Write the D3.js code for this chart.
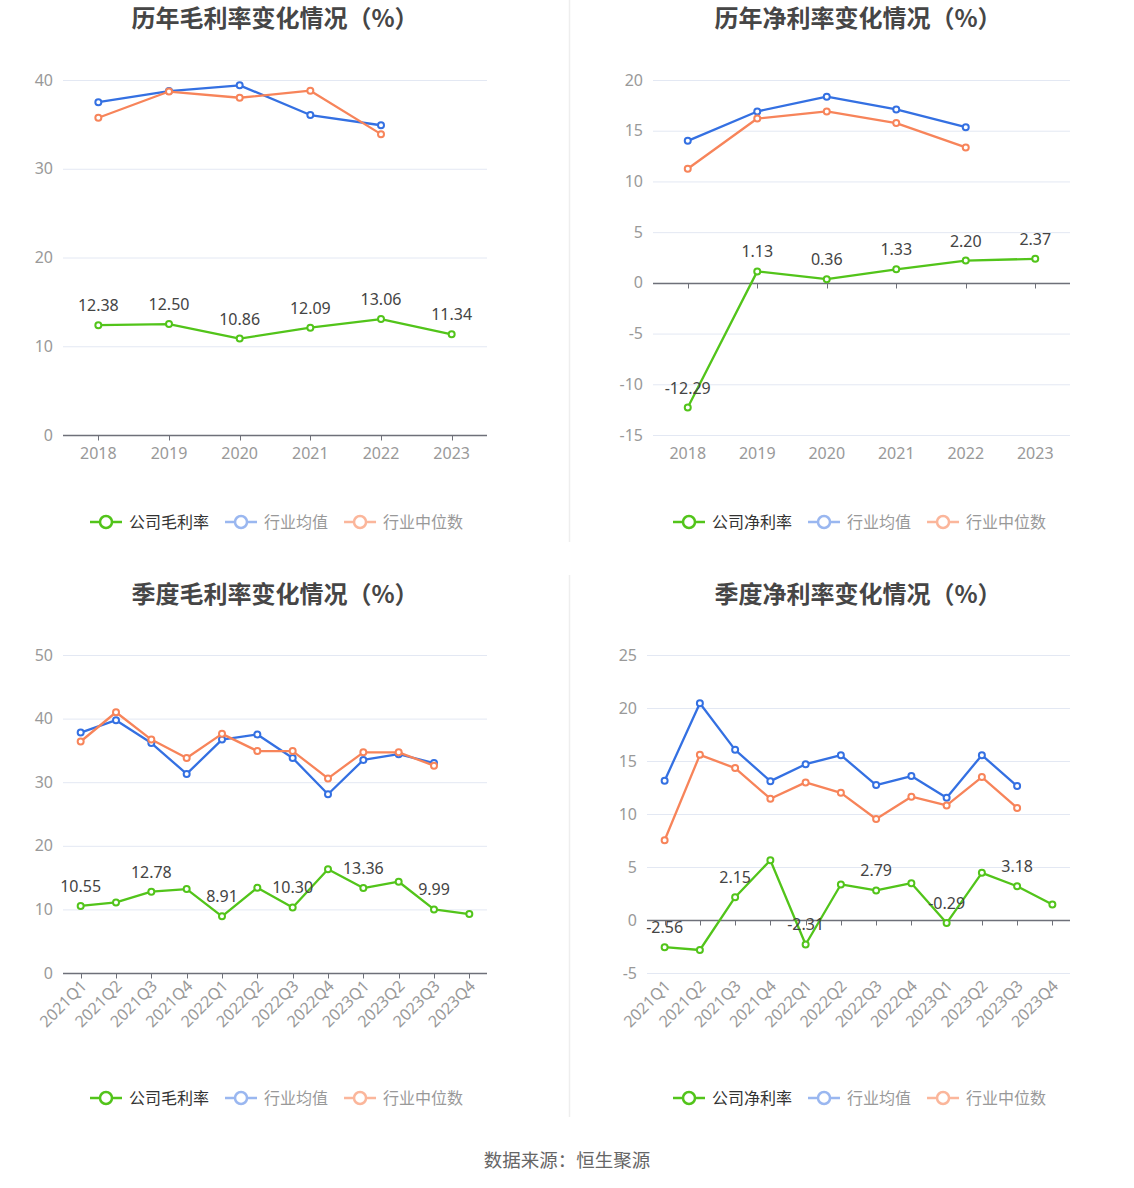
<!DOCTYPE html>
<html><head><meta charset="utf-8">
<script src="https://cdn.jsdelivr.net/npm/d3@7"></script>
<style>
html,body{margin:0;padding:0;background:#fff;}
svg{display:block;font-family:"Noto Sans","Noto Sans CJK SC",sans-serif;}
</style></head>
<body><svg id="c" width="1134" height="1188"></svg>
<script>
// ---------- data ----------
const years = ["2018","2019","2020","2021","2022","2023"];
const quarters = ["2021Q1","2021Q2","2021Q3","2021Q4","2022Q1","2022Q2","2022Q3","2022Q4","2023Q1","2023Q2","2023Q3","2023Q4"];

const annualGrossCompany = [12.38, 12.50, 10.86, 12.09, 13.06, 11.34];
const annualGrossAvg     = [37.5, 38.75, 39.4, 36.05, 34.9];
const annualGrossMedian  = [35.75, 38.7, 38.0, 38.8, 33.9];

const annualNetCompany = [-12.29, 1.13, 0.36, 1.33, 2.20, 2.37];
const annualNetAvg     = [14.0, 16.9, 18.35, 17.1, 15.35];
const annualNetMedian  = [11.25, 16.2, 16.9, 15.75, 13.35];

const quarterGrossCompany = [10.55, 11.1, 12.78, 13.2, 8.91, 13.4, 10.30, 16.3, 13.36, 14.35, 9.99, 9.27];
const quarterGrossAvg     = [37.8, 39.75, 36.15, 31.3, 36.7, 37.5, 33.8, 28.1, 33.5, 34.4, 33.0];
const quarterGrossMedian  = [36.4, 41.0, 36.7, 33.8, 37.6, 34.9, 34.9, 30.6, 34.7, 34.7, 32.6];

const quarterNetCompany = [-2.56, -2.83, 2.15, 5.64, -2.31, 3.35, 2.79, 3.47, -0.29, 4.45, 3.18, 1.47];
const quarterNetAvg     = [13.14, 20.45, 16.05, 13.1, 14.7, 15.55, 12.73, 13.58, 11.54, 15.55, 12.64];
const quarterNetMedian  = [7.52, 15.58, 14.33, 11.44, 12.98, 12.0, 9.53, 11.63, 10.81, 13.48, 10.57];

const titles = ["历年毛利率变化情况（%）","历年净利率变化情况（%）","季度毛利率变化情况（%）","季度净利率变化情况（%）"];
const legendGross = ["公司毛利率","行业均值","行业中位数"];
const legendNet   = ["公司净利率","行业均值","行业中位数"];
const ticksAnnualGross  = [0,10,20,30,40];
const ticksAnnualNet    = [-15,-10,-5,0,5,10,15,20];
const ticksQuarterGross = [0,10,20,30,40,50];
const ticksQuarterNet   = [-5,0,5,10,15,20,25];
const source = "数据来源：恒生聚源";

// ---------- style ----------
const GREEN="#52c41a", BLUE="#3470e2", ORANGE="#f7845a";
const GREEN_F="#52c41a", BLUE_F="#9ab7f0", ORANGE_F="#fbb69b";
const GRID="#e3e8f3", AXIS="#6e7079", LABEL="#999", TEXT="#444";

const svg = d3.select("#c");

function drawChart(o){
  const g = svg.append("g");
  const x = d3.scalePoint().domain(o.cats).range([o.left, o.right]).padding(0.5);
  const y = d3.scaleLinear().domain([o.ticks[0], o.ticks[o.ticks.length-1]]).range([o.bottom, o.top]);

  // title
  g.append("text").attr("x", o.cx).attr("y", o.titleY).attr("text-anchor","middle")
    .attr("dominant-baseline","central")
    .style("font-family",'"Noto Sans CJK SC",sans-serif')
    .attr("font-size",24).attr("font-weight","bold").attr("fill","#464646").text(o.title);

  // grid
  g.selectAll(".grid").data(o.ticks.filter(t=>t!==0 || o.ticks[0]!==0)).enter().append("line")
    .attr("x1",o.left).attr("x2",o.right).attr("y1",d=>y(d)+0.5).attr("y2",d=>y(d)+0.5)
    .attr("stroke",GRID).attr("stroke-width",1);

  // y labels
  g.selectAll(".yl").data(o.ticks).enter().append("text")
    .attr("x",o.left-10).attr("y",d=>y(d)).attr("dy","0.35em").attr("text-anchor","end")
    .attr("font-size",16).attr("fill",LABEL).text(d=>d);

  // x axis line at zero
  const ay = Math.round(y(0))+0.5;
  g.append("line").attr("x1",o.left).attr("x2",o.right).attr("y1",ay).attr("y2",ay)
    .attr("stroke",AXIS).attr("stroke-width",1.5);
  g.selectAll(".tk").data(o.cats).enter().append("line")
    .attr("x1",d=>Math.round(x(d))+0.5).attr("x2",d=>Math.round(x(d))+0.5)
    .attr("y1",ay).attr("y2",ay+5).attr("stroke",AXIS).attr("stroke-width",1);

  // x labels
  const ly = o.bottom;
  if(o.rotate){
    g.selectAll(".xl").data(o.cats).enter().append("text")
      .attr("transform",d=>`translate(${x(d)+3},${ly+10}) rotate(-45)`)
      .attr("dy","0.35em").attr("text-anchor","end")
      .attr("font-size",16).attr("fill",LABEL).text(d=>d);
  } else {
    g.selectAll(".xl").data(o.cats).enter().append("text")
      .attr("x",d=>x(d)).attr("y",ly+18).attr("dy","0.35em").attr("text-anchor","middle")
      .attr("font-size",16).attr("fill",LABEL).text(d=>d);
  }

  const line = d3.line().x((d,i)=>x(o.cats[i])).y(d=>y(d));
  const series = [
    {v:o.avg, c:BLUE},
    {v:o.median, c:ORANGE},
    {v:o.company, c:GREEN}
  ];
  series.forEach(s=>{
    g.append("path").attr("d",line(s.v)).attr("fill","none").attr("stroke",s.c).attr("stroke-width",2.3)
      .attr("stroke-linejoin","round");
    g.selectAll(null).data(s.v).enter().append("circle")
      .attr("cx",(d,i)=>x(o.cats[i])).attr("cy",d=>y(d)).attr("r",3)
      .attr("fill","#fff").attr("stroke",s.c).attr("stroke-width",2);
  });

  // data labels
  g.selectAll(".dl").data(o.company.map((v,i)=>({v,i})).filter(d=>d.i % o.labelEvery===0)).enter().append("text")
    .attr("x",d=>x(o.cats[d.i])).attr("y",d=>y(d.v)-14).attr("text-anchor","middle")
    .attr("font-size",16).attr("fill",TEXT).text(d=>d.v.toFixed(2));

  // legend
  const items = [
    {t:o.legend[0], c:GREEN_F, tc:"#333"},
    {t:o.legend[1], c:BLUE_F, tc:"#999"},
    {t:o.legend[2], c:ORANGE_F, tc:"#999"}
  ];
  const lg = g.append("g");
  let lx = o.legendX;
  items.forEach((it)=>{
    lg.append("line").attr("x1",lx).attr("x2",lx+32).attr("y1",o.legendY).attr("y2",o.legendY)
      .attr("stroke",it.c).attr("stroke-width",2.5);
    lg.append("circle").attr("cx",lx+16).attr("cy",o.legendY).attr("r",6)
      .attr("fill","#fff").attr("stroke",it.c).attr("stroke-width",2.5);
    const tx = lg.append("text").attr("x",lx+39).attr("y",o.legendY).attr("dy","0.35em")
      .style("font-family",'"Noto Sans CJK SC",sans-serif')
      .attr("font-size",16).attr("fill",it.tc).text(it.t);
    lx += 39 + tx.node().getComputedTextLength() + 16;
  });
}

drawChart({title:titles[0], cx:275, titleY:16, cats:years, left:63, right:487, top:80, bottom:435,
  ticks:ticksAnnualGross, company:annualGrossCompany, avg:annualGrossAvg, median:annualGrossMedian,
  rotate:false, labelEvery:1, legend:legendGross, legendX:90, legendY:522});
drawChart({title:titles[1], cx:858, titleY:16, cats:years, left:653, right:1070, top:80, bottom:435,
  ticks:ticksAnnualNet, company:annualNetCompany, avg:annualNetAvg, median:annualNetMedian,
  rotate:false, labelEvery:1, legend:legendNet, legendX:673, legendY:522});
drawChart({title:titles[2], cx:275, titleY:592, cats:quarters, left:63, right:487, top:655, bottom:973,
  ticks:ticksQuarterGross, company:quarterGrossCompany, avg:quarterGrossAvg, median:quarterGrossMedian,
  rotate:true, labelEvery:2, legend:legendGross, legendX:90, legendY:1098});
drawChart({title:titles[3], cx:858, titleY:592, cats:quarters, left:647, right:1070, top:655, bottom:973,
  ticks:ticksQuarterNet, company:quarterNetCompany, avg:quarterNetAvg, median:quarterNetMedian,
  rotate:true, labelEvery:2, legend:legendNet, legendX:673, legendY:1098});

// separators
svg.append("line").attr("x1",569.5).attr("x2",569.5).attr("y1",0).attr("y2",542).attr("stroke","#eee").attr("stroke-width",1.5);
svg.append("line").attr("x1",569.5).attr("x2",569.5).attr("y1",575).attr("y2",1117).attr("stroke","#eee").attr("stroke-width",1.5);

// footer
svg.append("text").attr("x",567).attr("y",1161).attr("dy","0.35em").attr("text-anchor","middle")
  .style("font-family",'"Noto Sans CJK SC",sans-serif')
  .attr("font-size",18.5).attr("fill","#666").text(source);
</script>
</body></html>
